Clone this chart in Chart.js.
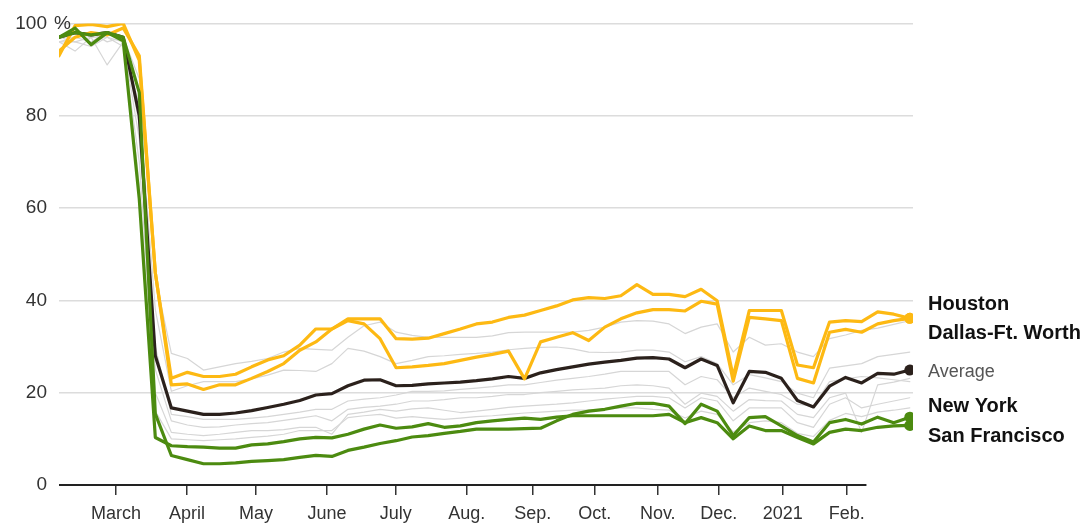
<!DOCTYPE html>
<html>
<head>
<meta charset="utf-8">
<script src="https://cdn.jsdelivr.net/npm/chart.js@4/dist/chart.umd.min.js"></script>
<style>
  html, body { margin: 0; padding: 0; background: #fff; }
  #wrap { width: 1087px; height: 525px; position: relative; }
</style>
</head>
<body>
<div id="wrap"><canvas id="c"></canvas></div>
<script>
// Weekly observations, week 0 = early Feb 2020 ... week 53 = late Feb 2021 (share of pre-pandemic level, %)
const dallasFtWorth = [93, 99.5, 99.8, 99.3, 100, 92, 46, 23.1, 24.4, 23.5, 23.5, 24, 25.6, 27.1, 28, 30.3, 33.8, 33.8, 36, 36, 36, 31.7, 31.6, 31.8, 32.8, 33.8, 34.9, 35.3, 36.3, 36.8, 37.8, 38.8, 40.1, 40.6, 40.4, 41, 43.4, 41.3, 41.3, 40.8, 42.4, 39.9, 23.5, 37.8, 37.8, 37.8, 26, 25.4, 35.3, 35.6, 35.4, 37.5, 37, 36.1];
const houston = [94, 97, 98, 97.5, 99, 93, 46, 21.7, 21.9, 20.7, 21.7, 21.7, 23.1, 24.6, 26.3, 29.2, 31, 33.8, 35.6, 34.9, 31.7, 25.4, 25.6, 25.9, 26.3, 27, 27.7, 28.3, 29, 23, 31, 32, 33, 31.3, 34.2, 36, 37.3, 38, 38, 37.7, 39.8, 39.2, 22.5, 36.3, 36, 35.6, 23.1, 22.1, 33.1, 33.7, 33.1, 34.9, 35.6, 36.1];
const average = [97, 98, 97.5, 98, 97, 80, 28, 16.7, 16, 15.3, 15.3, 15.6, 16.1, 16.8, 17.5, 18.3, 19.5, 19.8, 21.5, 22.7, 22.8, 21.5, 21.6, 21.9, 22.1, 22.3, 22.6, 23, 23.5, 23.1, 24.3, 25, 25.6, 26.2, 26.6, 27, 27.5, 27.6, 27.3, 25.4, 27.3, 25.9, 17.8, 24.6, 24.4, 23.1, 18.3, 16.9, 21.4, 23.3, 22.1, 24.2, 24, 24.9];
const newYork = [97, 98, 97.5, 98, 97, 85, 15.4, 6.4, 5.5, 4.6, 4.6, 4.8, 5.1, 5.3, 5.5, 6, 6.4, 6.2, 7.5, 8.2, 9, 9.6, 10.4, 10.7, 11.2, 11.6, 12.1, 12.1, 12.1, 12.2, 12.3, 13.9, 15.3, 16, 16.4, 17.1, 17.7, 17.7, 17.1, 13.3, 17.5, 16, 10.7, 14.6, 14.8, 12.8, 10.7, 9.3, 13.5, 14.2, 13.2, 14.7, 13.5, 14.7];
const sanFrancisco = [97, 99, 95.4, 98, 96.2, 62, 10.3, 8.5, 8.3, 8.2, 8, 8, 8.7, 8.9, 9.4, 10, 10.3, 10.2, 11, 12.1, 13, 12.3, 12.6, 13.3, 12.5, 12.8, 13.5, 13.9, 14.2, 14.5, 14.2, 14.7, 15, 15, 15, 15, 15, 15, 15.3, 13.5, 14.6, 13.5, 10, 12.8, 11.8, 11.8, 10.3, 8.9, 11.4, 12.1, 11.8, 12.5, 12.8, 12.9];

// Other metro areas (grey)
const otherCity1 = [97, 98, 97, 98, 97, 88, 45, 28.5, 27.4, 24.9, 25.6, 26.3, 26.8, 27.4, 28.8, 29.6, 29.4, 29.2, 32, 34.5, 35.3, 33.1, 32.4, 32, 32, 32, 32, 32.3, 33, 33.1, 33.1, 33.1, 33.1, 33.5, 34.2, 35.3, 35.6, 35.5, 34.9, 32.8, 34.2, 34.9, 28.8, 32, 30.3, 30.6, 28.8, 27.8, 31.7, 32.5, 33.5, 34, 34.8, 35.6];
const otherCity2 = [96, 96, 95, 97, 96, 82, 38, 20.3, 21.5, 22.4, 22.4, 22.4, 23, 23.8, 24.9, 24.8, 24.6, 26.3, 29.6, 29, 27.8, 26.3, 27, 27.8, 28, 28.3, 28.5, 28.8, 29.3, 29.6, 29.8, 29.9, 29.5, 28.8, 28.7, 28.8, 29.2, 29.2, 28.8, 26.7, 27.8, 26.3, 21.7, 23.9, 23.2, 22.4, 19.9, 18.9, 25.3, 25.8, 26.3, 27.8, 28.3, 28.8];
const otherCity3 = [97, 97, 98, 96, 97, 78, 30, 15.3, 14.8, 14.2, 14.2, 14.2, 14.5, 14.8, 15.3, 15.8, 16.4, 16.4, 18.2, 18.6, 18.9, 19.5, 20.3, 20.3, 20.4, 20.7, 21, 21.3, 21.7, 21.7, 22.2, 22.7, 23.1, 23.5, 24, 24.6, 24.6, 24.6, 24.6, 21.7, 23.5, 22.8, 18.9, 21, 20.3, 19.6, 17.5, 17.1, 22.4, 23, 23.5, 23.2, 22.8, 22.4];
const otherCity4 = [96, 94, 97, 91, 96, 75, 25, 13.9, 13, 12.5, 12.6, 13, 13.3, 13.5, 14, 14.5, 15, 13.9, 16.4, 16.8, 17.1, 17.5, 18.2, 18.2, 18.5, 18.9, 18.9, 19.2, 19.6, 19.6, 20, 20.3, 20.6, 20.8, 21, 21.5, 21.7, 21.5, 21, 17.5, 19.9, 19.2, 16, 18.5, 18.3, 18.2, 15.3, 14.6, 18.9, 19.9, 11.4, 21.7, 22.3, 23.1];
const otherCity5 = [97, 96, 97, 97, 95, 70, 20, 11.4, 11, 10.7, 11, 11.4, 11.8, 11.8, 12, 12.5, 12.5, 11, 15.3, 15.8, 16.4, 16, 16.5, 16.7, 16.2, 15.7, 16, 16.4, 16.8, 17.1, 17.3, 17.5, 17.8, 18.2, 18.6, 18.9, 19.2, 19.2, 18.9, 16.7, 18.9, 18.2, 13.9, 16.7, 16.7, 16.7, 13.5, 12.5, 17.5, 18.9, 16.7, 17.5, 18.2, 18.9];
const otherCity6 = [96, 97, 96, 98, 97, 65, 16, 10, 9.8, 9.6, 9.8, 10, 10.3, 10.6, 11, 11.8, 11.8, 11.8, 14.6, 15, 15.3, 14.5, 14.8, 14.5, 14.2, 14.5, 14.8, 15, 15.3, 15.6, 15.8, 16, 16.2, 16.2, 16.4, 16.7, 16.7, 16.4, 16.2, 14.5, 16, 15.3, 11.5, 13.5, 13.9, 13.5, 11.2, 10.5, 14, 15.5, 14.8, 15.8, 16.2, 16.7];

// X-axis month ticks (position in weeks from first observation) and labels
const monthTickWeeks = [3.55, 7.97, 12.27, 16.69, 20.98, 25.4, 29.51, 33.37, 37.3, 41.1, 45.08, 49.07];
const monthLabels = ['March', 'April', 'May', 'June', 'July', 'Aug.', 'Sep.', 'Oct.', 'Nov.', 'Dec.', '2021', 'Feb.'];
const yTickValues = [0, 20, 40, 60, 80, 100];

// Right-hand labels
const endLabels = ['Houston', 'Dallas-Ft. Worth', 'Average', 'New York', 'San Francisco'];

const FONT = '"Liberation Sans", Arial, Helvetica, sans-serif';
const YELLOW = '#fdb913';
const GREEN = '#4c8b10';
const DARK = '#2b211c';
const GREY = '#d6d6d6';

function pts(arr) { return arr.map((v, i) => ({ x: i, y: v })); }

function lastDot(r) {
  return ctx => (ctx.dataIndex === ctx.dataset.data.length - 1 ? r : 0);
}

const greys = [otherCity1, otherCity2, otherCity3, otherCity4, otherCity5, otherCity6].map((d, i) => ({
  label: 'Other ' + (i + 1),
  data: pts(d),
  borderColor: GREY,
  borderWidth: 1.2,
  pointRadius: 0,
  order: 10
}));

function mainSet(label, arr, color, order) {
  return {
    label,
    data: pts(arr),
    borderColor: color,
    backgroundColor: color,
    borderWidth: 3.2,
    pointRadius: lastDot(5.5),
    pointHoverRadius: lastDot(5.5),
    pointBorderWidth: 0,
    order
  };
}

const datasets = [
  ...greys,
  mainSet('Average', average, DARK, 4),
  mainSet('Houston', houston, YELLOW, 3),
  mainSet('Dallas-Ft. Worth', dallasFtWorth, YELLOW, 2),
  mainSet('New York', newYork, GREEN, 1),
  mainSet('San Francisco', sanFrancisco, GREEN, 1)
];

const decor = {
  id: 'decor',
  afterDraw(chart) {
    const { ctx, chartArea, scales } = chart;
    const xs = scales.x, ys = scales.y;
    ctx.save();
    // baseline axis
    const y0 = ys.getPixelForValue(0);
    ctx.strokeStyle = '#222';
    ctx.lineWidth = 2;
    ctx.beginPath();
    ctx.moveTo(chartArea.left, y0);
    ctx.lineTo(xs.getPixelForValue(50.3), y0);
    ctx.stroke();
    // percent sign after the top tick
    ctx.fillStyle = '#333';
    ctx.font = '19px ' + FONT;
    ctx.textBaseline = 'middle';
    ctx.textAlign = 'left';
    ctx.fillText('%', chartArea.left - 5, ys.getPixelForValue(100));
    // end labels
    const labelVals = [39.2, 32.8, 24.4, 17.1, 10.5];
    const x = chartArea.right + 15;
    endLabels.forEach((t, i) => {
      if (t === 'Average') {
        ctx.font = '18px ' + FONT;
        ctx.fillStyle = '#555';
      } else {
        ctx.font = 'bold 20px ' + FONT;
        ctx.fillStyle = '#111';
      }
      ctx.fillText(t, x, ys.getPixelForValue(labelVals[i]));
    });
    ctx.restore();
  }
};

new Chart(document.getElementById('c'), {
  type: 'line',
  data: { datasets },
  options: {
    responsive: true,
    maintainAspectRatio: false,
    animation: false,
    layout: { padding: { top: 17, right: 174, bottom: 0, left: 0 } },
    elements: { line: { tension: 0, borderJoinStyle: 'round', borderCapStyle: 'round' } },
    plugins: { legend: { display: false }, tooltip: { enabled: false } },
    scales: {
      x: {
        type: 'linear',
        min: 0,
        max: 53.2,
        afterBuildTicks: s => { s.ticks = monthTickWeeks.map(v => ({ value: v })); },
        afterFit: s => { s.height = 40; },
        ticks: {
          autoSkip: false,
          maxRotation: 0,
          padding: 8,
          color: '#333',
          font: { family: FONT, size: 18 },
          callback: (v, i) => monthLabels[i]
        },
        grid: { drawOnChartArea: false, drawTicks: true, tickLength: 10, color: '#333', lineWidth: 1.5 },
        border: { display: false }
      },
      y: {
        min: 0,
        max: 100,
        afterBuildTicks: s => { s.ticks = yTickValues.map(v => ({ value: v })); },
        afterFit: s => { s.width = 59; },
        ticks: {
          padding: 12,
          color: '#333',
          font: { family: FONT, size: 19 },
          callback: v => String(v)
        },
        grid: {
          drawTicks: false,
          color: c => (c.tick && c.tick.value === 0 ? 'rgba(0,0,0,0)' : '#dcdcdc'),
          lineWidth: 1.5
        },
        border: { display: false }
      }
    }
  },
  plugins: [decor]
});
</script>
</body>
</html>
